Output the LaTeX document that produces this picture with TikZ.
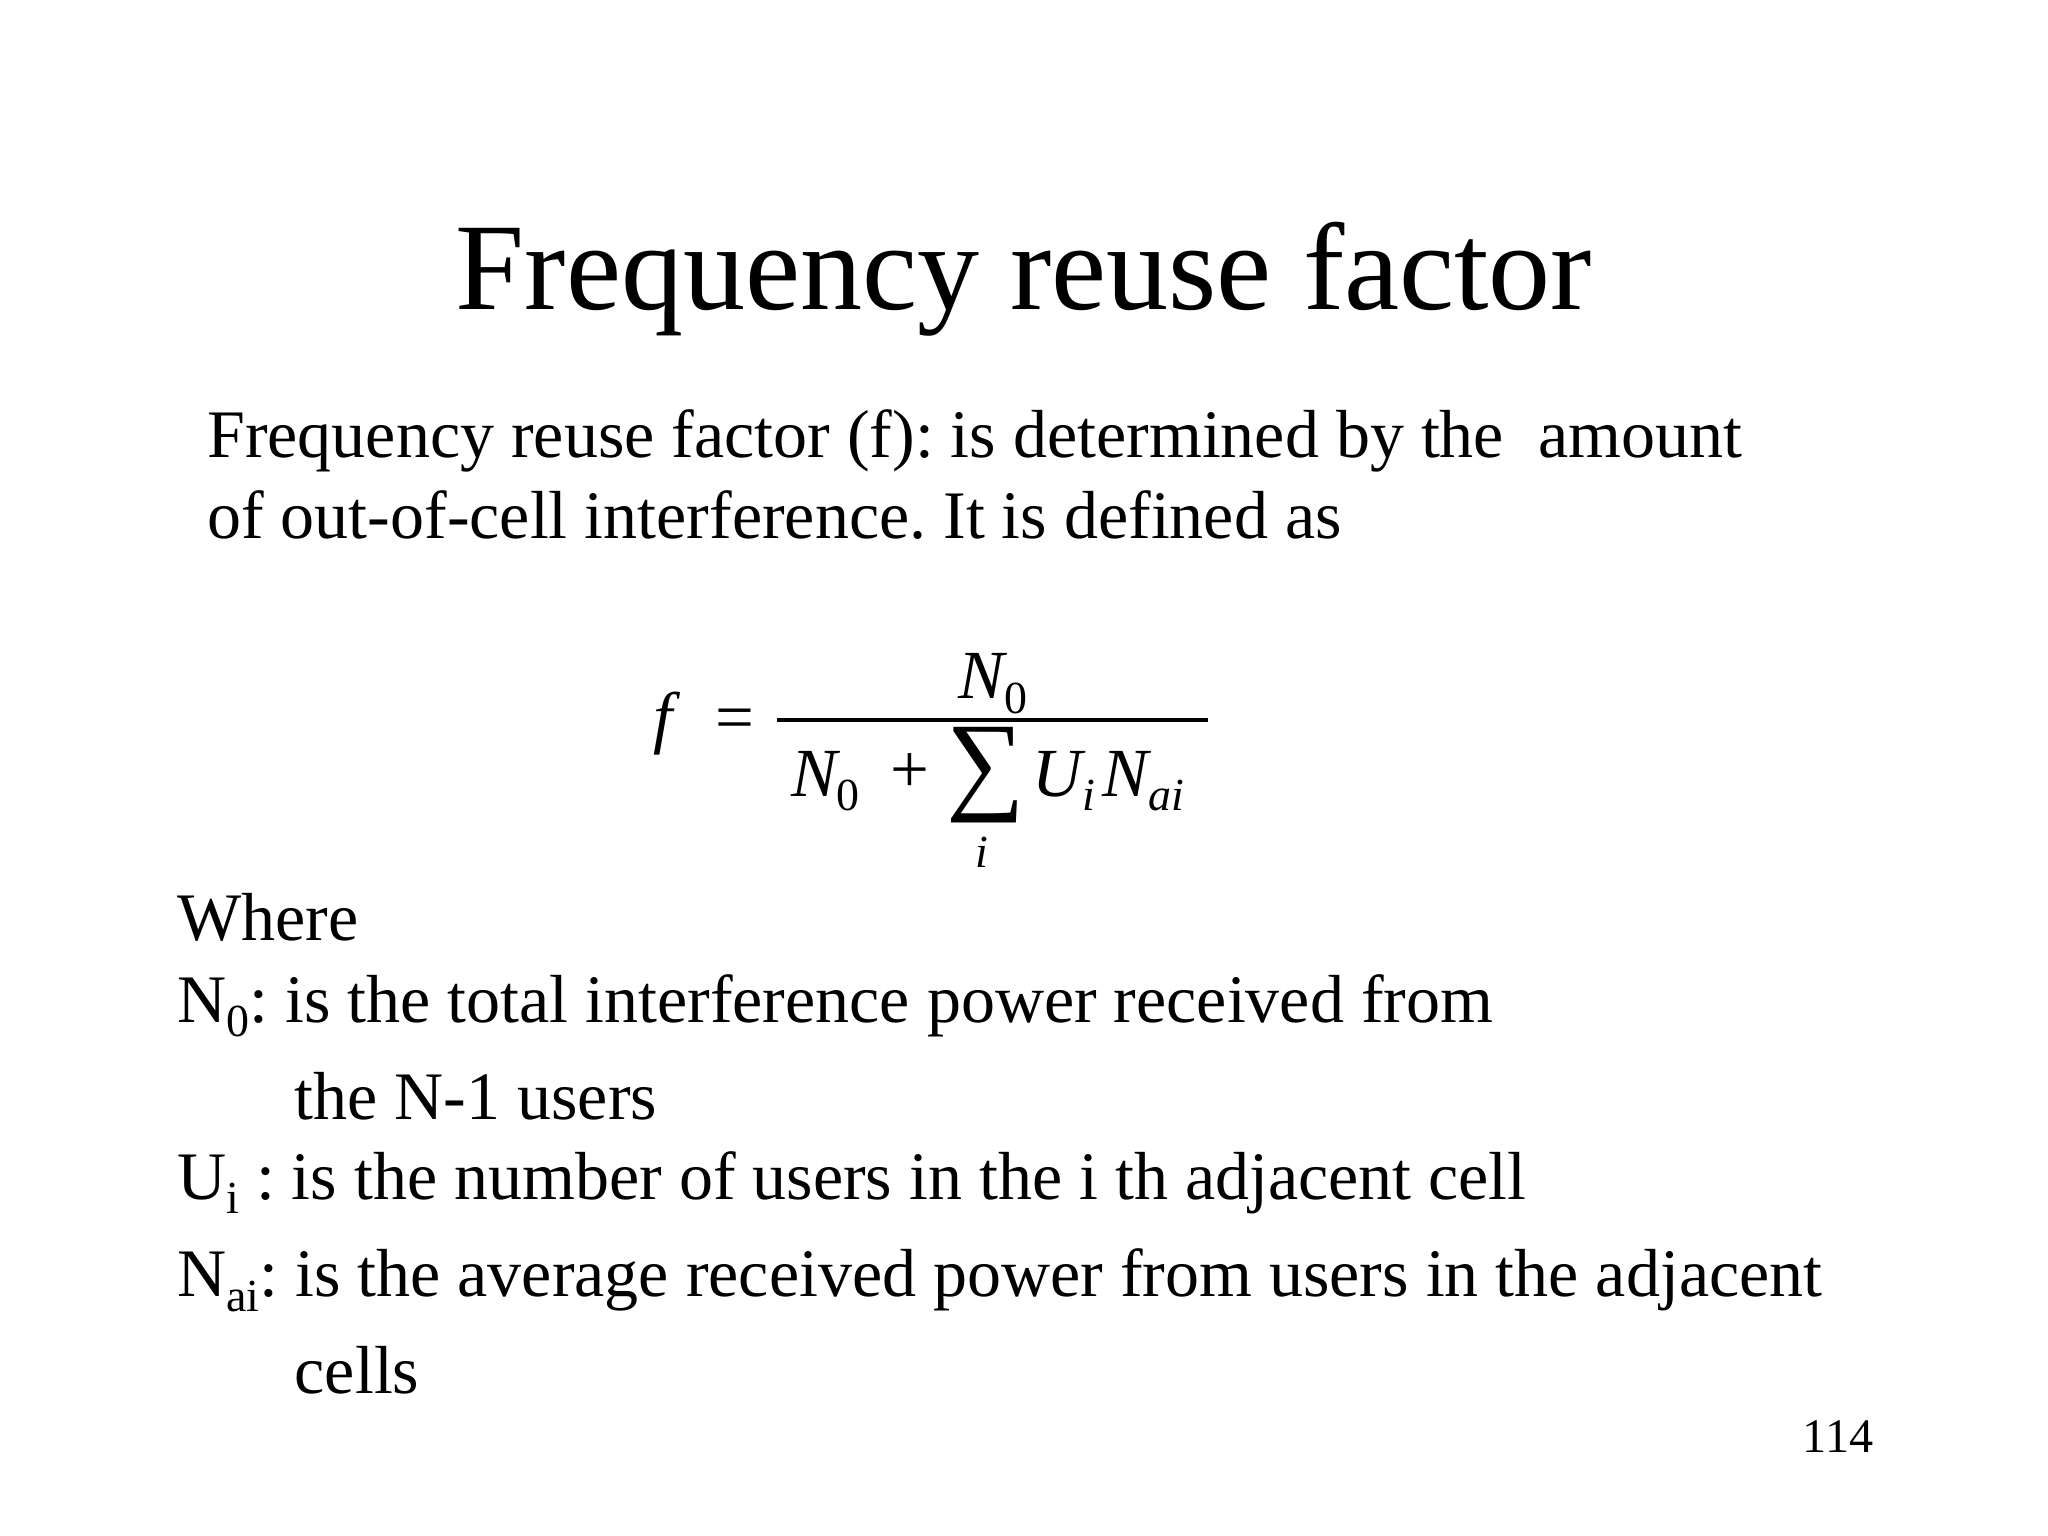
\documentclass[tikz,border=0pt]{standalone}
\usepackage{fontspec}
\setmainfont{Liberation Serif}
\frenchspacing
\newcommand{\sbx}[1]{\raisebox{-0.45ex}{\fontsize{10}{12}\selectfont #1}}
\begin{document}
\begin{tikzpicture}[x=0.01cm,y=-0.01cm,
  body/.style={anchor=base west,inner sep=0pt,font=\fontsize{14.8}{18}\selectfont},
  mth/.style={anchor=base,inner sep=0pt,font=\fontsize{15}{18}\selectfont\itshape}]
\useasboundingbox (0,0) rectangle (1568,1176);
\node[anchor=base,inner sep=0pt,font=\fontsize{27}{32}\selectfont] (title) at (784,237) {Frequency reuse factor};
\node[body] (l1) at (158,350) {Frequency reuse factor (f): is determined by the\ \ amount};
\node[body] (l2) at (158,412) {of out-of-cell interference. It is defined as};
% formula
\node[mth] (f) at (508,567) {f};
\node[anchor=base,inner sep=0pt,font=\fontsize{15}{18}\selectfont] (eq) at (563,567) {=};
\draw[line width=0.8pt] (595,551) -- (925,551);
\node[mth] (num) at (760,535) {N\sbx{\upshape 0}};
\node[mth] (d1) at (632,610) {N\sbx{\upshape 0}};
\node[anchor=base,inner sep=0pt,font=\fontsize{15}{18}\selectfont] (plus) at (697,607) {+};
\node[anchor=base,inner sep=0pt,font=\fontsize{24}{28}\selectfont] (sum) at (755,612) {∑};
\node[mth,font=\fontsize{10}{12}\selectfont\itshape] (si) at (752,664) {i};
\node[anchor=base west,inner sep=0pt,font=\fontsize{15}{18}\selectfont\itshape] (u) at (790,610) {U\sbx{\itshape i\,}N\sbx{\itshape ai}};
% definitions
\node[body] (w) at (135,720) {Where};
\node[body] (n0) at (135,783) {N\sbx{0}: is the total interference power received from};
\node[body] (n0b) at (225,857) {the N-1 users};
\node[body] (ui) at (135,918) {U\sbx{i} : is the number of users in the i th adjacent cell};
\node[body] (na) at (135,993) {N\sbx{ai}: is the average received power from users in the adjacent};
\node[body] (nab) at (225,1067) {cells};
\node[anchor=base east,inner sep=0pt,font=\fontsize{10.5}{12}\selectfont] (pg) at (1435,1112) {114};
\end{tikzpicture}
\end{document}
